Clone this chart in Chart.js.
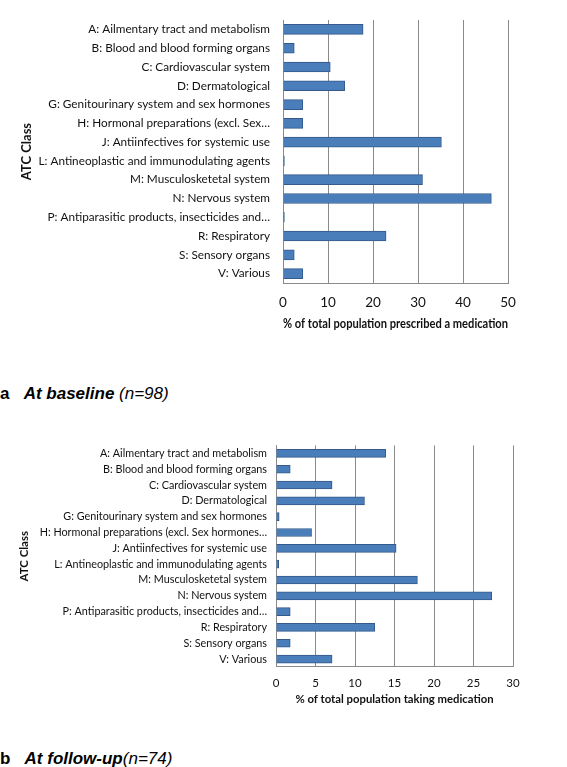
<!DOCTYPE html>
<html>
<head>
<meta charset="utf-8">
<script src="https://cdn.jsdelivr.net/npm/chart.js@4.4.1/dist/chart.umd.min.js"></script>
<style>
  body { margin: 0; background: #fff; width: 567px; height: 767px; position: relative; overflow: hidden; }
  .box { position: absolute; left: 0; width: 567px; }
  .cap { position: absolute; left: 0; font-family: "Liberation Sans", Arial, sans-serif; font-size: 17px; white-space: nowrap; color: #000; }
</style>
</head>
<body>
<div class="box" style="top:0;height:340px"><canvas id="chartA"></canvas></div>
<div class="cap" style="top:384px"><b>a</b>&nbsp;&nbsp;&nbsp;<b><i>At baseline</i></b> <i>(n=98)</i></div>
<div class="box" style="top:430px;height:290px"><canvas id="chartB"></canvas></div>
<div class="cap" style="top:749px"><b>b</b>&nbsp;&nbsp;&nbsp;<b><i>At follow-up</i></b><i>(n=74)</i></div>

<script>
// ATC classes (baseline chart labels)
const classesA = [
  "A: Ailmentary tract and metabolism",
  "B: Blood and blood forming organs",
  "C: Cardiovascular system",
  "D: Dermatological",
  "G: Genitourinary system and sex hormones",
  "H: Hormonal preparations (excl. Sex\u2026",
  "J: Antiinfectives for systemic use",
  "L: Antineoplastic and immunodulating agents",
  "M: Musculosketetal system",
  "N: Nervous system",
  "P: Antiparasitic products, insecticides and\u2026",
  "R: Respiratory",
  "S: Sensory organs",
  "V: Various"
];
// follow-up chart labels
const classesB = [
  "A: Ailmentary tract and metabolism",
  "B: Blood and blood forming organs",
  "C: Cardiovascular system",
  "D: Dermatological",
  "G: Genitourinary system and sex hormones",
  "H: Hormonal preparations (excl. Sex hormones\u2026",
  "J: Antiinfectives for systemic use",
  "L: Antineoplastic and immunodulating agents",
  "M: Musculosketetal system",
  "N: Nervous system",
  "P: Antiparasitic products, insecticides and\u2026",
  "R: Respiratory",
  "S: Sensory organs",
  "V: Various"
];

// % of population
const baseline = [17.8, 2.5, 10.5, 13.7, 4.4, 4.4, 35.2, 0.3, 31.0, 46.3, 0.3, 22.9, 2.5, 4.4];
const followUp = [13.9, 1.8, 7.1, 11.2, 0.4, 4.5, 15.2, 0.35, 17.9, 27.3, 1.8, 12.5, 1.8, 7.1];

const ticksA = [0, 10, 20, 30, 40, 50];
const ticksB = [0, 5, 10, 15, 20, 25, 30];

function makeChart(id, labels, values, ticks, cfg) {
  const ctx = document.getElementById(id).getContext("2d");
  return new Chart(ctx, {
    type: "bar",
    data: {
      labels: labels,
      datasets: [{
        data: values,
        backgroundColor: "#4a7ebb",
        borderColor: "#34598a",
        borderWidth: 1,
        borderSkipped: "left",
        barThickness: cfg.bar
      }]
    },
    options: {
      indexAxis: "y",
      responsive: true,
      maintainAspectRatio: false,
      animation: false,
      layout: { padding: { top: cfg.top, right: cfg.right, left: 0, bottom: 0 } },
      plugins: { legend: { display: false }, tooltip: { enabled: false } },
      scales: {
        x: {
          min: 0,
          max: ticks[ticks.length - 1],
          afterBuildTicks: (s) => { s.ticks = ticks.map(v => ({ value: v })); },
          afterFit: (s) => { s.height = cfg.xh; },
          grid: { color: "#8a8a8a", lineWidth: 1, drawTicks: false },
          border: { display: true, color: "#8a8a8a" },
          ticks: { color: "#111", padding: cfg.tickPad, font: { family: "Lato", size: cfg.tickSize } },
          title: {
            display: true,
            text: cfg.xTitle,
            color: "#111",
            font: { family: "Lato", size: cfg.titleSize, weight: "bold" },
            padding: { top: 0, bottom: cfg.titlePad }
          }
        },
        y: {
          afterFit: (s) => { s.width = cfg.yw; },
          grid: { display: false, drawTicks: false },
          border: { display: true, color: "#8a8a8a" },
          ticks: { color: "#111", padding: cfg.labelPad, autoSkip: false, font: { family: "Lato", size: cfg.labelSize } },
          title: {
            display: true,
            text: "ATC Class",
            color: "#111",
            font: { family: "Lato", size: cfg.yTitleSize, weight: "bold" },
            padding: { top: cfg.yTitlePad, bottom: 0 }
          }
        }
      }
    }
  });
}

makeChart("chartA", classesA, baseline, ticksA, {
  bar: 10, top: 6, right: 59, xh: 57, yw: 283,
  tickPad: 12, tickSize: 13.5, titleSize: 13, titlePad: 8,
  labelPad: 13, labelSize: 11.75, yTitleSize: 13, yTitlePad: 19,
  xTitle: "% of total population prescribed a medication"
});

makeChart("chartB", classesB, followUp, ticksB, {
  bar: 8, top: 13, right: 54, xh: 53, yw: 276,
  tickPad: 9, tickSize: 11.5, titleSize: 11.3, titlePad: 14,
  labelPad: 9, labelSize: 10.8, yTitleSize: 11.5, yTitlePad: 17,
  xTitle: "% of total population taking medication"
});
</script>
</body>
</html>
